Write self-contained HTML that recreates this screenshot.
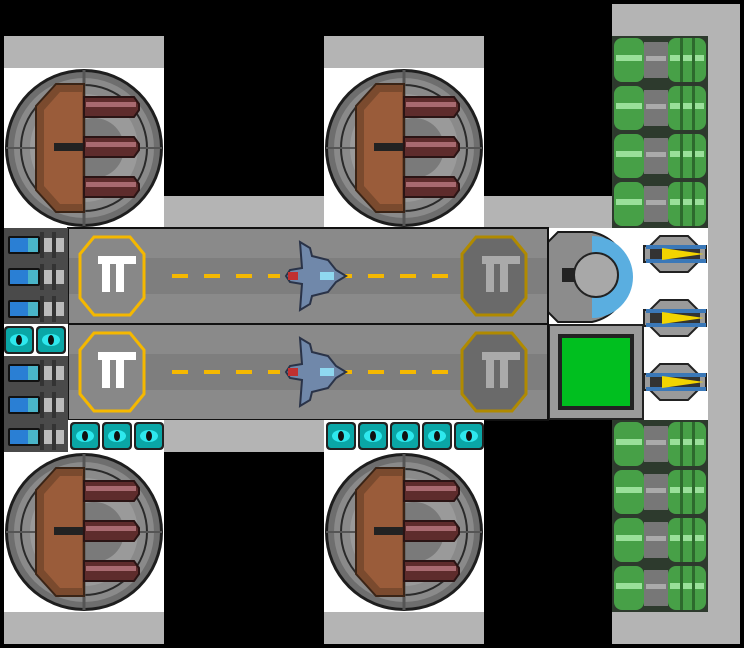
<!DOCTYPE html>
<html><head><meta charset="utf-8"><style>html,body{margin:0;padding:0;background:#000;width:744px;height:648px;overflow:hidden}</style></head>
<body>
<svg width="744" height="648" viewBox="0 0 744 648" xmlns="http://www.w3.org/2000/svg">
<defs>
<g id="turret">
  <circle cx="0" cy="0" r="79" fill="#1e1e1e"/>
  <circle cx="0" cy="0" r="76" fill="#6e6e6e"/>
  <circle cx="0" cy="0" r="70" fill="#8a8a8a"/>
  <circle cx="0" cy="0" r="63" fill="none" stroke="#2a2a2a" stroke-width="2"/>
  <circle cx="0" cy="0" r="54" fill="#9a9a9a"/>
  <circle cx="10" cy="0" r="30" fill="#7a7a7a"/>
  <line x1="0" y1="-78" x2="0" y2="78" stroke="#555" stroke-width="3"/>
  <line x1="-78" y1="0" x2="78" y2="0" stroke="#555" stroke-width="2"/>
  <path d="M-28,-64 L0,-64 L0,64 L-28,64 L-48,42 L-48,-42 Z" fill="#7a4a2e" stroke="#3a2416" stroke-width="2"/>
  <path d="M-24,-56 L-2,-56 L-2,56 L-24,56 L-40,38 L-40,-38 Z" fill="#9a5c3a"/>
  <rect x="-30" y="-5" width="30" height="8" fill="#222"/>
  <g fill="#5e2c2c" stroke="#2a1414" stroke-width="2">
    <path d="M0,-51 H50 L55,-44 V-38 L50,-31 H0 Z"/>
    <path d="M0,-11 H50 L55,-4 V2 L50,9 H0 Z"/>
    <path d="M0,29 H50 L55,36 V42 L50,49 H0 Z"/>
  </g>
  <g fill="#a86a70"><rect x="2" y="-46" width="50" height="5"/><rect x="2" y="-6" width="50" height="5"/><rect x="2" y="34" width="50" height="5"/></g>
</g>
<g id="tank">
  <rect x="0" y="0" width="96" height="48" fill="#2d3a2d"/>
  <rect x="2" y="2" width="30" height="44" rx="8" fill="#47a047"/>
  <rect x="4" y="19" width="26" height="6" fill="#9ae09a"/>
  <rect x="32" y="6" width="24" height="36" fill="#777"/>
  <rect x="34" y="20" width="20" height="5" fill="#aaa"/>
  <rect x="56" y="2" width="38" height="44" rx="8" fill="#47a047"/>
  <rect x="58" y="19" width="34" height="6" fill="#9ae09a"/>
  <rect x="68" y="2" width="3" height="44" fill="#2d6a2d"/>
  <rect x="80" y="2" width="3" height="44" fill="#2d6a2d"/>
</g>
<g id="missile">
  <path d="M16,0 H44 L54,10 L62,10 V26 L54,26 L44,36 H16 L6,26 L0,26 V10 L6,10 Z" fill="#9a9a9a" stroke="#222" stroke-width="2"/>
  <path d="M2,9 H62 V13 H2 Z M2,23 H62 V27 H2 Z" fill="#3a78b8"/>
  <rect x="6" y="13" width="50" height="10" fill="#333"/>
  <path d="M18,12 L60,18 L18,24 Z" fill="#f2d400"/>
</g>
<g id="cyan">
  <rect x="0" y="0" width="30" height="28" rx="4" fill="#222"/>
  <rect x="2" y="2" width="26" height="24" rx="3" fill="#0aa6a6"/>
  <ellipse cx="15" cy="14" rx="9" ry="6" fill="#2ee8ee"/>
  <ellipse cx="15" cy="14" rx="3" ry="5" fill="#111"/>
</g>
<g id="engine">
  <rect x="0" y="0" width="64" height="32" fill="#4a4a4a"/>
  <rect x="4" y="8" width="32" height="18" rx="2" fill="#111"/>
  <rect x="6" y="10" width="28" height="14" fill="#2a7fd4"/>
  <rect x="24" y="10" width="10" height="14" fill="#4ab4c8"/>
  <rect x="38" y="10" width="22" height="14" fill="#bbb"/>
  <rect x="36" y="4" width="4" height="26" fill="#333"/>
  <rect x="48" y="4" width="4" height="26" fill="#333"/>
</g>
<g id="runway">
  <rect x="0" y="0" width="480" height="96" fill="#8a8a8a" stroke="#111" stroke-width="2"/>
  <rect x="1" y="30" width="478" height="36" fill="#7e7e7e"/>
  <polygon points="32,9 68,9 82,26 82,70 68,87 32,87 18,70 18,26" transform="translate(-6,0)" fill="#888" stroke="#f5b800" stroke-width="3"/>
  <path d="M30,28 H68 V36 H56 V64 H48 V36 H42 V64 H34 V36 H30 Z" fill="#fff"/>
  <polygon points="412,9 448,9 462,26 462,70 448,87 412,87 398,70 398,26" transform="translate(-4,0)" fill="#6a6a6a" stroke="#b08a00" stroke-width="3"/>
  <path d="M414,28 H452 V36 H440 V64 H432 V36 H426 V64 H418 V36 H414 Z" fill="#aaa"/>
  <g fill="#f5b800"><rect x="104" y="46" width="16" height="4"/><rect x="136" y="46" width="16" height="4"/><rect x="168" y="46" width="16" height="4"/><rect x="200" y="46" width="12" height="4"/><rect x="268" y="46" width="16" height="4"/><rect x="300" y="46" width="16" height="4"/><rect x="332" y="46" width="16" height="4"/><rect x="364" y="46" width="16" height="4"/></g>
  <g transform="translate(208,14)">
    <path d="M24,0 L34,6 L36,14 L52,18 L60,28 L70,34 L60,40 L52,50 L36,54 L34,62 L24,68 L26,42 L14,40 L10,34 L14,28 L26,26 Z" fill="#7088aa" stroke="#2a3348" stroke-width="2"/>
    <rect x="12" y="30" width="10" height="8" fill="#c03030"/>
    <rect x="44" y="30" width="14" height="8" fill="#8fd8f0"/>
  </g>
</g>
</defs>

<rect x="4" y="36" width="160" height="32" fill="#b4b4b4"/>
<rect x="4" y="68" width="160" height="160" fill="#fff"/>
<use href="#turret" x="84" y="148"/>
<rect x="324" y="36" width="160" height="32" fill="#b4b4b4"/>
<rect x="324" y="68" width="160" height="160" fill="#fff"/>
<use href="#turret" x="404" y="148"/>
<rect x="164" y="196" width="160" height="32" fill="#b4b4b4"/>
<rect x="484" y="196" width="128" height="32" fill="#b4b4b4"/>

<rect x="612" y="4" width="128" height="640" fill="#b4b4b4"/>
<rect x="548" y="228" width="160" height="192" fill="#fff"/>
<use href="#tank" x="612" y="36"/><use href="#tank" x="612" y="84"/><use href="#tank" x="612" y="132"/><use href="#tank" x="612" y="180"/>
<use href="#tank" x="612" y="420"/><use href="#tank" x="612" y="468"/><use href="#tank" x="612" y="516"/><use href="#tank" x="612" y="564"/>
<use href="#missile" x="644" y="236"/><use href="#missile" x="644" y="300"/><use href="#missile" x="644" y="364"/>

<path d="M558,232 H592 A46,46 0 0 1 592,322 H558 L548,312 V242 Z" fill="#8c8c8c" stroke="#1a1a1a" stroke-width="2"/>
<path d="M592,236 A40,40 0 0 1 592,318 Z" fill="#5aaee0"/>
<circle cx="596" cy="275" r="22" fill="#a8a8a8" stroke="#222" stroke-width="2"/>
<rect x="562" y="268" width="12" height="14" fill="#222"/>
<rect x="549" y="325" width="94" height="94" fill="#9a9a9a" stroke="#222" stroke-width="2"/>
<rect x="558" y="334" width="76" height="76" fill="#222"/>
<rect x="562" y="338" width="68" height="68" fill="#00bf1f"/>

<use href="#runway" x="68" y="228"/>
<use href="#runway" x="68" y="324"/>

<rect x="4" y="228" width="64" height="224" fill="#fff"/>
<use href="#engine" x="4" y="228"/><use href="#engine" x="4" y="260"/><use href="#engine" x="4" y="292"/>
<use href="#cyan" x="4" y="326"/><use href="#cyan" x="36" y="326"/>
<use href="#engine" x="4" y="356"/><use href="#engine" x="4" y="388"/><use href="#engine" x="4" y="420"/>

<rect x="68" y="420" width="96" height="32" fill="#fff"/>
<use href="#cyan" x="70" y="422"/><use href="#cyan" x="102" y="422"/><use href="#cyan" x="134" y="422"/>
<rect x="164" y="420" width="160" height="32" fill="#b4b4b4"/>
<rect x="324" y="420" width="160" height="32" fill="#fff"/>
<use href="#cyan" x="326" y="422"/><use href="#cyan" x="358" y="422"/><use href="#cyan" x="390" y="422"/><use href="#cyan" x="422" y="422"/><use href="#cyan" x="454" y="422"/>

<rect x="4" y="452" width="160" height="160" fill="#fff"/>
<rect x="4" y="612" width="160" height="32" fill="#b4b4b4"/>
<use href="#turret" x="84" y="532"/>
<rect x="324" y="452" width="160" height="160" fill="#fff"/>
<rect x="324" y="612" width="160" height="32" fill="#b4b4b4"/>
<use href="#turret" x="404" y="532"/>
</svg>
</body></html>
